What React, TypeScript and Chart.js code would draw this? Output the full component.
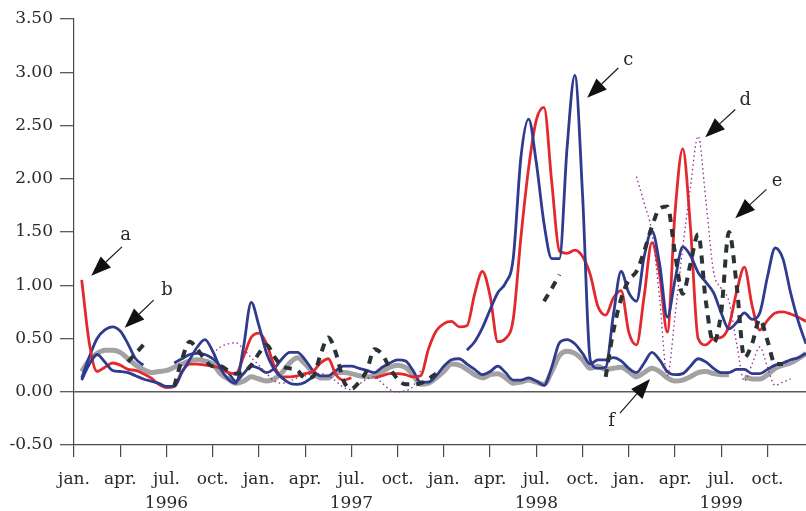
import React, { useEffect, useRef } from 'react';
import { Chart, registerables } from 'chart.js';

Chart.register(...registerables);

// Time axis in months, counted from January 1996, sampled every half month.
const HALF_MONTHS: number[] = Array.from({ length: 96 }, (_, i) => i / 2);

// Quarterly ticks and their labels.
const QUARTER_TICKS = [0, 3, 6, 9, 12, 15, 18, 21, 24, 27, 30, 33, 36, 39, 42, 45];
const QUARTER_NAMES = ['jan.', 'apr.', 'jul.', 'oct.'];
const YEARS = ['1996', '1997', '1998', '1999'];

// Series a (red)
const seriesA: (number | null)[] = [
  null, 1.05, 0.45, 0.19, 0.23, 0.27, 0.25, 0.21, 0.20, 0.17, 0.13, 0.07,
  0.04, 0.05, 0.19, 0.26, 0.26, 0.25, 0.24, 0.22, 0.18, 0.17, 0.33, 0.51,
  0.55, 0.45, 0.24, 0.14, 0.14, 0.15, 0.17, 0.19, 0.27, 0.31, 0.16, 0.11,
  0.13, null, null, 0.13, 0.15, 0.17, 0.17, 0.16, 0.14, 0.15, 0.40, 0.57,
  0.64, 0.66, 0.61, 0.62, 0.92, 1.13, 0.90, 0.47, 0.50, 0.68, 1.45, 2.10,
  2.55, 2.67, 1.97, 1.32, 1.30, 1.33, 1.27, 1.10, 0.80, 0.72, 0.88, 0.95,
  0.56, 0.44, 0.90, 1.40, 1.10, 0.56, 1.68, 2.28, 1.55, 0.50, 0.44, 0.50,
  0.51, 0.62, 0.94, 1.17, 0.81, 0.58, 0.67, 0.74, 0.75, 0.73, 0.70, 0.66,
];

// Series b (blue, low)
const seriesB: (number | null)[] = [
  null, 0.13, 0.33, 0.50, 0.58, 0.61, 0.57, 0.45, 0.31, 0.25, null, null,
  null, 0.27, 0.31, 0.35, 0.36, 0.35, 0.31, 0.24, 0.18, 0.10, 0.17, 0.24,
  0.22, 0.18, 0.22, 0.31, 0.37, 0.37, 0.30, 0.20, 0.15, 0.15, 0.20, 0.24,
  0.24, 0.22, 0.20, 0.18, 0.23, 0.27, 0.30, 0.29, 0.20, 0.09, 0.09, 0.15,
  0.24, 0.30, 0.31, 0.26, 0.21, 0.16, 0.19, 0.24, 0.18, 0.11, 0.11, 0.13,
  0.10, 0.06, 0.23, 0.46, 0.49, 0.45, 0.36, 0.26, 0.30, 0.30, 0.32, 0.29,
  0.22, 0.18, 0.27, 0.37, 0.30, 0.19, 0.16, 0.17, 0.24, 0.31, 0.28, 0.22,
  0.18, 0.18, 0.21, 0.21, 0.17, 0.17, 0.21, 0.25, 0.27, 0.30, 0.32, 0.36,
];

// Series c (blue, high)
const seriesC: (number | null)[] = [
  null, 0.11, 0.26, 0.35, 0.28, 0.20, 0.19, 0.18, 0.15, 0.12, 0.10, 0.08,
  0.05, 0.05, 0.18, 0.30, 0.42, 0.49, 0.38, 0.22, 0.12, 0.08, 0.42, 0.84,
  0.62, 0.36, 0.21, 0.13, 0.08, 0.07, 0.09, 0.14, null, null, null, null,
  null, null, null, null, null, null, null, null, null, null, null, null,
  null, null, null, 0.39, 0.47, 0.60, 0.77, 0.93, 1.02, 1.25, 2.20, 2.56,
  2.15, 1.58, 1.25, 1.25, 2.30, 2.97, 1.85, 0.30, 0.22, 0.23, 0.72, 1.13,
  0.93, 0.85, 1.27, 1.51, 1.20, 0.70, 1.05, 1.36, 1.28, 1.12, 1.03, 0.93,
  0.74, 0.59, 0.65, 0.74, 0.68, 0.74, 1.08, 1.35, 1.25, 0.93, 0.66, 0.45,
];

// Series d (purple, dotted)
const seriesD: (number | null)[] = [
  null, null, null, null, null, null, null, null, null, null, null, null,
  null, null, null, null, null, null, 0.36, 0.42, 0.45, 0.46, 0.40, 0.32,
  0.25, 0.17, 0.10, 0.08, 0.10, 0.13, 0.15, 0.17, 0.17, 0.15, 0.10, 0.04,
  0.02, 0.07, 0.12, 0.14, 0.08, 0.02, 0.00, 0.01, 0.05, 0.20, null, null,
  null, null, null, null, null, null, null, null, null, null, null, null,
  null, null, null, null, null, null, null, null, null, null, null, null,
  null, 2.02, 1.77, 1.50, 0.88, 0.15, 0.71, 1.35, 1.92, 2.40, 1.80, 1.13,
  0.97, 0.85, 0.45, 0.10, 0.26, 0.42, 0.23, 0.06, 0.09, 0.12, null, null,
];

// Series e (black, dashed)
const seriesE: (number | null)[] = [
  null, null, null, null, null, null, null, 0.28, 0.36, 0.44, null, null,
  null, 0.05, 0.30, 0.47, 0.40, 0.30, 0.24, 0.24, 0.20, 0.17, 0.18, 0.25,
  0.36, 0.44, 0.33, 0.24, 0.22, 0.20, 0.13, 0.14, 0.35, 0.51, 0.36, 0.10,
  0.03, 0.09, 0.20, 0.40, 0.35, 0.22, 0.12, 0.07, 0.07, 0.08, 0.12, 0.17,
  null, null, null, null, null, null, null, null, null, null, null, null,
  null, 0.85, 0.97, 1.10, null, null, null, null, null, 0.14, 0.57, 0.87,
  1.05, 1.13, 1.32, 1.55, 1.72, 1.74, 1.30, 0.92, 1.20, 1.48, 0.85, 0.46,
  0.75, 1.50, 1.00, 0.32, 0.45, 0.68, 0.48, 0.26, 0.26, null, null, null,
];

// Series f (grey)
const seriesF: (number | null)[] = [
  null, 0.19, 0.30, 0.36, 0.39, 0.39, 0.37, 0.31, 0.25, 0.21, 0.18, 0.19,
  0.20, 0.23, 0.26, 0.29, 0.30, 0.29, 0.26, 0.17, 0.12, 0.08, 0.10, 0.14,
  0.12, 0.10, 0.12, 0.18, 0.27, 0.32, 0.26, 0.18, 0.13, 0.13, 0.18, 0.18,
  0.17, 0.15, 0.14, 0.15, 0.19, 0.23, 0.25, 0.23, 0.16, 0.07, 0.08, 0.13,
  0.19, 0.26, 0.25, 0.21, 0.16, 0.13, 0.16, 0.17, 0.13, 0.08, 0.09, 0.11,
  0.09, 0.07, 0.19, 0.34, 0.38, 0.36, 0.30, 0.22, 0.24, 0.21, 0.22, 0.23,
  0.19, 0.14, 0.18, 0.22, 0.19, 0.13, 0.10, 0.11, 0.14, 0.18, 0.19, 0.17,
  0.16, 0.16, null, 0.14, 0.12, 0.12, 0.16, 0.22, 0.25, 0.27, 0.31, 0.36,
];

// Lettered arrows, in data units: [month, value]
const ARROWS = [
  { letter: 'a', tip: [1.12, 1.09], tail: [3.11, 1.36], text: [3.35, 1.47] },
  { letter: 'b', tip: [3.29, 0.6], tail: [5.17, 0.86], text: [6.04, 0.95] },
  { letter: 'c', tip: [33.3, 2.76], tail: [35.32, 3.04], text: [35.97, 3.11] },
  { letter: 'd', tip: [40.96, 2.39], tail: [42.91, 2.65], text: [43.56, 2.74] },
  { letter: 'e', tip: [42.91, 1.63], tail: [44.93, 1.9], text: [45.62, 1.98] },
  { letter: 'f', tip: [37.38, 0.12], tail: [35.43, -0.2], text: [34.89, -0.28] },
];

const SERIF = 'DejaVu Serif';
const INK = '#2a2a2a';
const AXIS = '#4a4a4a';

const toPoints = (values: (number | null)[]) =>
  HALF_MONTHS.map((m, i) => ({ x: m, y: values[i] }));

const arrowPlugin = {
  id: 'letteredArrows',
  afterDatasetsDraw(chart: any) {
    const { ctx } = chart;
    const xs = chart.scales.x;
    const ys = chart.scales.y;
    ctx.save();
    for (const a of ARROWS) {
      const tx = xs.getPixelForValue(a.tip[0]);
      const ty = ys.getPixelForValue(a.tip[1]);
      const sx = xs.getPixelForValue(a.tail[0]);
      const sy = ys.getPixelForValue(a.tail[1]);
      const ang = Math.atan2(ty - sy, tx - sx);
      const cos = Math.cos(ang);
      const sin = Math.sin(ang);
      const headLen = 20;
      const headHalf = 7.5;
      const bx = tx - headLen * cos;
      const by = ty - headLen * sin;
      ctx.strokeStyle = '#1c1c1c';
      ctx.fillStyle = '#111';
      ctx.lineWidth = 1.2;
      ctx.beginPath();
      ctx.moveTo(sx, sy);
      ctx.lineTo(bx, by);
      ctx.stroke();
      ctx.beginPath();
      ctx.moveTo(tx, ty);
      ctx.lineTo(bx - headHalf * sin, by + headHalf * cos);
      ctx.lineTo(bx + headHalf * sin, by - headHalf * cos);
      ctx.closePath();
      ctx.fill();
      ctx.font = `18px "${SERIF}"`;
      ctx.fillStyle = INK;
      ctx.textAlign = 'center';
      ctx.textBaseline = 'middle';
      ctx.fillText(a.letter, xs.getPixelForValue(a.text[0]), ys.getPixelForValue(a.text[1]));
    }
    ctx.restore();
  },
};

export default function App() {
  const canvasRef = useRef<HTMLCanvasElement>(null);

  useEffect(() => {
    if (!canvasRef.current) return;
    const chart = new Chart(canvasRef.current, {
      type: 'line',
      data: {
        datasets: [
          {
            label: 'e',
            data: toPoints(seriesE),
            borderColor: '#2b3236',
            borderWidth: 4,
            borderDash: [8, 7],
            order: 0,
          },
          {
            label: 'd',
            data: toPoints(seriesD),
            borderColor: '#8a2a90',
            borderWidth: 1.3,
            borderDash: [1.5, 3],
            order: 1,
          },
          {
            label: 'c',
            data: toPoints(seriesC),
            borderColor: '#2f3b8f',
            borderWidth: 2.8,
            order: 2,
          },
          {
            label: 'a',
            data: toPoints(seriesA),
            borderColor: '#e2292d',
            borderWidth: 2.8,
            order: 3,
          },
          {
            label: 'b',
            data: toPoints(seriesB),
            borderColor: '#2f3b8f',
            borderWidth: 2.8,
            order: 4,
          },
          {
            label: 'f',
            data: toPoints(seriesF),
            borderColor: '#a2a2a2',
            borderWidth: 5,
            order: 5,
          },
        ],
      },
      options: {
        responsive: false,
        animation: false,
        devicePixelRatio: 1,
        layout: { padding: { top: 19, left: 0, right: 0, bottom: 0 } },
        plugins: {
          legend: { display: false },
          tooltip: { enabled: false },
        },
        elements: {
          point: { radius: 0 },
          line: {
            cubicInterpolationMode: 'monotone',
            borderCapStyle: 'butt',
            borderJoinStyle: 'round',
            fill: false,
          },
        },
        scales: {
          x: {
            type: 'linear',
            min: 0,
            max: 47.5,
            afterBuildTicks: (scale: any) => {
              scale.ticks = QUARTER_TICKS.map((v) => ({ value: v }));
            },
            afterFit: (scale: any) => {
              scale.height = 66;
            },
            ticks: {
              autoSkip: false,
              maxRotation: 0,
              minRotation: 0,
              padding: 10,
              color: INK,
              font: { family: SERIF, size: 17, lineHeight: 1.45 },
              callback: (value: any) => {
                const idx = QUARTER_TICKS.indexOf(Number(value));
                if (idx < 0) return '';
                const name = QUARTER_NAMES[idx % 4];
                return idx % 4 === 2 ? [name, YEARS[Math.floor(idx / 4)]] : name;
              },
            },
            grid: {
              drawOnChartArea: false,
              drawTicks: true,
              tickLength: 12,
              tickColor: AXIS,
              tickWidth: 1.2,
              color: AXIS,
              lineWidth: 1.2,
            },
            border: { display: true, color: AXIS, width: 1.2 },
          },
          y: {
            min: -0.5,
            max: 3.5,
            afterFit: (scale: any) => {
              scale.width = 74;
            },
            ticks: {
              stepSize: 0.5,
              padding: 7,
              color: INK,
              font: { family: SERIF, size: 17 },
              callback: (value: any) => Number(value).toFixed(2),
            },
            grid: {
              drawOnChartArea: true,
              drawTicks: true,
              tickLength: 14,
              tickColor: AXIS,
              tickWidth: 1.2,
              lineWidth: 1.4,
              color: (ctx: any) =>
                ctx.tick && ctx.tick.value === 0 ? '#5a5a5a' : 'rgba(0,0,0,0)',
            },
            border: { display: true, color: AXIS, width: 1.2 },
          },
        },
      },
      plugins: [arrowPlugin],
    } as any);
    return () => chart.destroy();
  }, []);

  return (
    <div
      style={{
        position: 'absolute',
        left: 0,
        top: 0,
        width: 806,
        height: 511,
        background: '#ffffff',
      }}
    >
      <canvas ref={canvasRef} width={806} height={511} style={{ display: 'block' }} />
    </div>
  );
}
